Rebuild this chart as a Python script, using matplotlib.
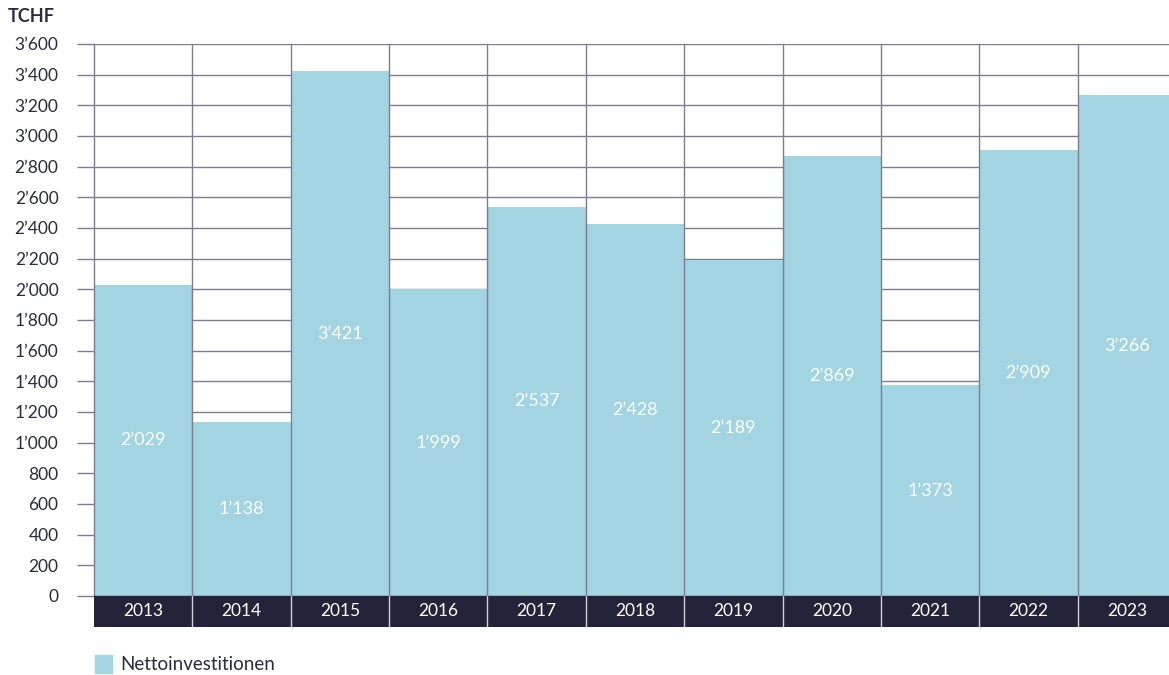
import matplotlib.pyplot as plt

plt.rcParams['font.family'] = ['Lato', 'DejaVu Sans']

years = ['2013', '2014', '2015', '2016', '2017', '2018', '2019', '2020', '2021', '2022', '2023']
netto = [2029, 1138, 3421, 1999, 2537, 2428, 2189, 2869, 1373, 2909, 3266]
yticks = list(range(0, 3601, 200))

bar_col = '#a2d4e2'
grid_col = '#7d7c92'
band_col = '#23233a'
text_col = '#2b2b3d'


def fmt(v):
    return f'{v:,}'.replace(',', '\u2019')


fig = plt.figure(figsize=(11.69, 6.75), dpi=100)
# the last column runs a little past the right edge of the picture
ax = fig.add_axes([94 / 1169, 1 - 627 / 675, (1176 - 94) / 1169, (627 - 44) / 675])

x = list(range(len(years)))
ax.bar(x, netto, width=1.0, color=bar_col, zorder=2)
ax.set_xlim(-0.5, len(years) - 0.5)
ylo = -3600 * 31 / 552
ax.set_ylim(ylo, 3600)

# horizontal grid behind bars
for t in yticks:
    ax.axhline(t, color=grid_col, lw=1, zorder=1)
# category separators over bars
for b in range(len(years) + 1):
    ax.plot([b - 0.5, b - 0.5], [0, 3600], color=grid_col, lw=1, zorder=3, clip_on=False)

# year band
ax.axhspan(ylo, 0, color=band_col, zorder=4)
for b in range(1, len(years)):
    ax.plot([b - 0.5, b - 0.5], [ylo, 0], color='#d0d0d8', lw=1, zorder=5)
for i, y in enumerate(years):
    ax.text(i, ylo / 2, y, color='white', fontsize=12.5, ha='center', va='center', zorder=6)

for i, v in enumerate(netto):
    ax.text(i, v / 2, fmt(v), color='white', fontsize=13, ha='center', va='center', zorder=6)

ax.set_yticks(yticks)
ax.set_yticklabels([fmt(t) for t in yticks])
ax.tick_params(axis='y', length=12.5, width=1, color=grid_col, pad=13, labelsize=12.5, labelcolor=text_col)
ax.set_xticks([])
for s in ax.spines.values():
    s.set_visible(False)

fig.text(8 / 1169, 1 - 16 / 675, 'TCHF', fontsize=13, fontweight='bold', color=text_col, va='center', ha='left')

# legend
fig.patches.append(plt.Rectangle((95 / 1169, 1 - 673 / 675), 17 / 1169, 18 / 675,
                                 transform=fig.transFigure, color=bar_col))
fig.text(120 / 1169, 1 - 665 / 675, 'Nettoinvestitionen', fontsize=13.5, color=text_col, va='center', ha='left')

fig.savefig('out.png', dpi=100)
